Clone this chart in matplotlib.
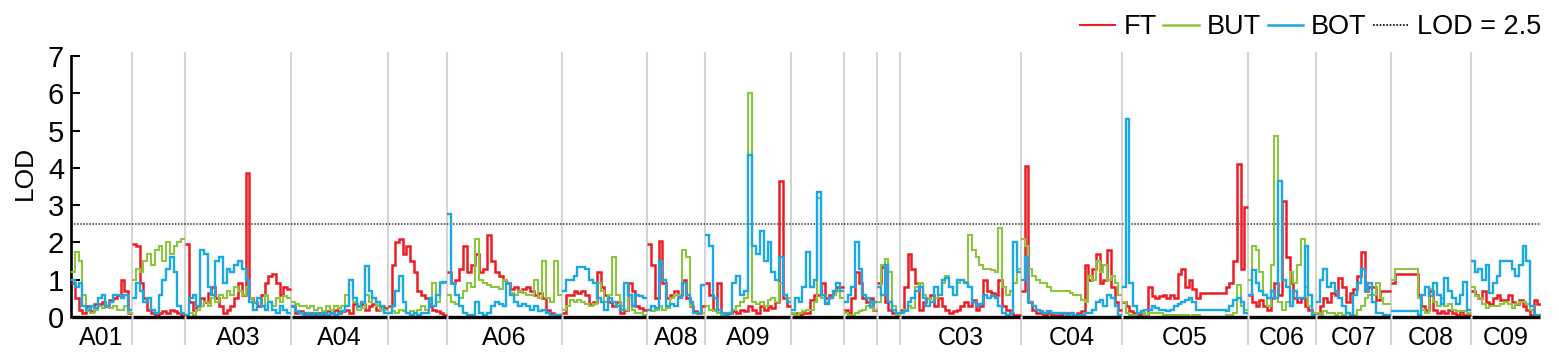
import matplotlib.pyplot as plt
from matplotlib.lines import Line2D
import numpy as np

plt.rcParams['font.family'] = ['Liberation Sans', 'DejaVu Sans']

# chromosomes and their lengths (cM)
chrom_names = ['A01', 'A02', 'A03', 'A04', 'A05', 'A06', 'A07', 'A08', 'A09', 'A10',
               'C01', 'C02', 'C03', 'C04', 'C05', 'C06', 'C07', 'C08', 'C09']
chrom_len = [61, 53, 106, 97, 59, 115, 85, 58, 86, 53, 33, 23, 121, 101, 126, 68, 75, 80, 70]
shown_names = ['A01', 'A03', 'A04', 'A06', 'A08', 'A09', 'C03', 'C04', 'C05', 'C06', 'C07', 'C08', 'C09']

threshold = 2.5

# LOD scans per chromosome, equal bins along each chromosome
lod_ft = [
    [0.9, 0.5, 0.2, 0.1, 0.3, 0.15, 0.35, 0.35, 0.4, 0.3, 0.45, 0.5, 0.6, 1.0, 0.7, 0.1],
    [1.95, 1.9, 0.9, 0.5, 0.2, 0.1, 0.05, 0.1, 0.15, 0.1, 0.2, 0.15, 0.1, 0.05],
    [1.95, 0.4, 0.2, 0.3, 0.5, 0.4, 0.65, 0.8, 0.5, 0.3, 0.1, 0.2, 0.3, 0.5, 0.9, 0.6, 3.85, 0.5,
     0.4, 0.3, 0.6, 0.9, 1.1, 1.15, 0.9, 0.6, 0.8, 0.75],
    [0.3, 0.1, 0.15, 0.1, 0.05, 0.1, 0.05, 0.1, 0.05, 0.15, 0.1, 0.2, 0.1, 0.15, 0.2, 0.1, 0.35,
     0.3, 0.35, 0.2, 0.3, 0.35, 0.2, 0.3, 0.25],
    [0.3, 1.4, 2.0, 2.1, 1.7, 1.9, 1.5, 1.2, 0.7, 0.6, 0.5, 0.3, 0.2, 0.15, 0.1, 0.05],
    [1.2, 0.9, 1.0, 1.3, 1.9, 1.2, 1.4, 1.7, 1.2, 1.3, 2.2, 1.5, 1.2, 1.1, 1.0, 0.9, 0.75, 0.8,
     0.7, 0.75, 0.8, 0.7, 0.6, 0.65, 0.5, 0.2, 0.1, 0.05, 0.0],
    [0.1, 0.6, 0.6, 0.7, 0.65, 0.7, 0.6, 0.35, 0.4, 1.2, 0.8, 0.6, 0.4, 0.3, 0.4, 0.1, 0.2, 0.9,
     0.7, 0.3, 0.25, 0.2],
    [1.95, 1.4, 0.5, 2.05, 0.9, 0.5, 0.6, 0.7, 0.6, 1.0, 0.5, 0.3, 0.15, 0.1, 0.3],
    [0.9, 0.6, 0.2, 0.9, 0.1, 0.05, 0.1, 0.15, 0.1, 0.2, 0.15, 0.3, 0.2, 0.1, 0.3, 0.2, 0.3,
     0.25, 0.4, 3.65, 0.5, 0.3],
    [0.1, 0.1, 0.05, 0.1, 0.1, 0.45, 0.6, 0.6, 0.9, 0.5, 0.6, 0.7, 0.8, 0.8],
    [0.2, 0.1, 0.5, 1.2, 0.9, 0.5, 0.4, 0.5, 0.2],
    [0.9, 1.35, 0.4, 0.2, 0.1, 0.05],
    [0.2, 0.8, 1.7, 1.3, 0.9, 0.2, 0.4, 0.5, 0.6, 0.3, 0.5, 0.3, 0.2, 0.1, 0.15, 0.2, 0.3, 0.4,
     0.3, 0.45, 0.2, 0.3, 1.0, 0.7, 0.65, 0.6, 1.0, 0.3, 0.2, 0.1, 0.05, 0.05],
    [0.7, 4.05, 0.4, 0.2, 0.1, 0.1, 0.05, 0.1, 0.05, 0.05, 0.05, 0.1, 0.1, 0.1, 0.05, 0.1, 0.15,
     1.4, 1.0, 1.3, 1.7, 0.9, 1.0, 1.8, 0.8, 0.4, 0.2],
    [0.4, 0.3, 0.15, 0.1, 0.05, 0.1, 0.05, 0.8, 0.55, 0.5, 0.55, 0.6, 0.5, 0.6, 0.5, 1.15, 1.3,
     0.8, 1.0, 0.75, 0.5, 0.65, 0.65, 0.65, 0.65, 0.65, 0.65, 0.65, 0.8, 0.9, 1.5, 4.1, 1.3, 2.95],
    [0.6, 0.4, 0.3, 0.45, 0.3, 0.2, 0.5, 0.9, 0.6, 3.1, 1.6, 0.9, 0.5, 0.4, 0.5, 0.3, 0.2, 0.1],
    [0.1, 0.3, 0.5, 0.4, 0.65, 0.6, 1.05, 0.8, 0.4, 0.65, 0.75, 1.1, 1.75, 0.7, 0.8, 0.8, 0.45,
     0.7, 0.7, 0.7],
    [0.9, 1.15, 1.15, 1.15, 1.15, 1.15, 1.15, 0.6, 0.3, 0.2, 0.7, 0.2, 0.1, 0.15, 0.1, 0.2, 0.1,
     0.05, 0.15, 0.05, 0.05],
    [0.7, 0.6, 0.5, 0.7, 0.4, 0.35, 0.5, 0.6, 0.45, 0.45, 0.6, 0.4, 0.35, 0.45, 0.3, 0.2, 0.05,
     0.45, 0.35],
]

lod_but = [
    [1.2, 1.75, 1.5, 0.6, 0.15, 0.1, 0.2, 0.3, 0.25, 0.3, 0.25, 0.3, 0.2, 0.2, 0.3, 0.1],
    [1.0, 1.3, 1.2, 1.5, 1.7, 1.4, 1.8, 1.9, 1.5, 2.0, 1.7, 1.9, 2.0, 2.1],
    [0.05, 0.1, 0.05, 0.2, 0.3, 0.4, 0.3, 0.5, 0.4, 0.6, 0.5, 0.7, 0.6, 0.8, 0.7, 0.6, 0.8, 0.5,
     0.4, 0.5, 0.3, 0.6, 0.4, 0.3, 0.5, 0.4, 0.55, 0.5],
    [0.4, 0.35, 0.3, 0.3, 0.25, 0.3, 0.2, 0.25, 0.15, 0.3, 0.2, 0.3, 0.25, 0.3, 0.6, 1.0, 0.4,
     0.2, 0.25, 0.6, 0.4, 0.5, 0.3, 0.2, 0.2],
    [0.1, 0.15, 0.1, 0.2, 0.15, 0.1, 0.15, 0.1, 0.2, 0.3, 0.2, 0.4, 0.9, 0.4, 0.95, 0.9],
    [0.6, 0.4, 0.35, 0.5, 0.7, 0.9, 0.8, 2.1, 1.0, 0.9, 0.85, 0.8, 0.8, 0.75, 1.0, 0.9, 0.65, 0.6,
     0.7, 0.65, 0.6, 0.6, 1.0, 0.5, 1.5, 0.5, 0.4, 1.5, 0.6],
    [0.2, 0.3, 0.45, 0.4, 0.45, 0.4, 0.35, 0.3, 0.35, 0.9, 0.7, 0.4, 0.6, 1.6, 0.6, 0.3, 0.2, 0.5,
     0.2, 0.1, 0.1, 0.05],
    [0.2, 0.15, 0.2, 0.3, 0.2, 0.25, 0.5, 0.6, 0.6, 1.8, 1.6, 0.3, 0.1, 0.1, 0.1],
    [0.3, 0.2, 0.15, 0.1, 0.05, 0.05, 0.1, 0.2, 0.3, 0.4, 0.5, 6.0, 0.4, 0.35, 0.4, 0.3, 0.45,
     0.5, 0.4, 0.9, 0.6, 0.5],
    [0.1, 0.05, 0.1, 0.15, 0.2, 0.2, 0.4, 3.2, 0.5, 0.4, 0.5, 0.6, 0.7, 0.5],
    [0.1, 0.05, 0.05, 0.1, 0.15, 0.2, 0.3, 0.25, 0.2],
    [0.4, 1.4, 1.55, 1.2, 0.3, 0.05],
    [0.1, 0.2, 0.3, 0.25, 0.8, 0.9, 0.6, 0.5, 0.4, 0.5, 0.6, 0.9, 1.1, 0.8, 0.6, 0.9, 1.0, 0.95,
     2.2, 1.8, 1.6, 1.4, 1.3, 1.3, 1.25, 1.2, 2.4, 0.8, 0.6, 0.7, 0.9, 1.3],
    [2.1, 1.9, 1.3, 1.1, 1.0, 0.9, 0.9, 0.8, 0.7, 0.7, 0.7, 0.7, 0.7, 0.65, 0.6, 0.6, 0.45, 0.4,
     1.1, 1.0, 1.5, 1.2, 1.4, 1.0, 1.1, 0.9, 0.6],
    [0.4, 0.1, 0.05, 0.05, 0.1, 0.1, 0.05, 0.1, 0.1, 0.1, 0.1, 0.05, 0.05, 0.05, 0.05, 0.05, 0.05,
     0.05, 0.0, 0.05, 0.05, 0.0, 0.0, 0.0, 0.0, 0.0, 0.0, 0.0, 0.05, 0.05, 0.1, 0.85, 0.3, 0.2],
    [1.0, 1.9, 1.8, 1.2, 0.6, 0.3, 1.4, 4.85, 0.4, 0.2, 0.4, 1.2, 0.9, 1.4, 2.1, 0.8, 0.3, 0.1],
    [0.1, 0.05, 0.15, 0.1, 0.1, 0.05, 0.1, 0.05, 0.1, 0.05, 0.05, 0.2, 0.3, 0.5, 0.6, 0.6, 0.9,
     0.5, 0.35, 0.35],
    [1.0, 1.3, 1.3, 1.3, 1.3, 1.3, 1.3, 0.5, 0.2, 0.1, 0.75, 0.4, 0.3, 0.5, 0.3, 0.35, 0.2, 0.15,
     0.15, 0.15, 0.1],
    [0.8, 0.55, 0.5, 0.35, 0.25, 0.3, 0.3, 0.3, 0.35, 0.4, 0.35, 0.25, 0.35, 0.4, 0.4, 0.35, 0.2,
     0.05, 0.05],
]

lod_bot = [
    [1.0, 0.8, 0.9, 0.3, 0.2, 0.3, 0.25, 0.5, 0.6, 0.3, 0.4, 0.6, 0.6, 0.5, 0.6, 0.2],
    [0.5, 0.9, 0.7, 0.4, 0.5, 0.2, 0.1, 0.6, 1.0, 1.3, 1.6, 1.2, 0.3, 0.1],
    [0.05, 0.5, 0.6, 0.3, 1.8, 1.7, 0.8, 0.6, 1.5, 1.6, 0.9, 1.3, 1.2, 1.4, 1.5, 1.3, 1.0, 0.4,
     0.2, 0.5, 0.3, 0.2, 0.4, 0.2, 0.1, 0.3, 0.2, 0.1],
    [0.3, 0.15, 0.1, 0.05, 0.1, 0.05, 0.1, 0.05, 0.1, 0.05, 0.1, 0.05, 0.1, 0.15, 0.3, 1.0, 0.5,
     0.3, 0.4, 1.37, 0.7, 0.5, 0.4, 0.3, 0.1],
    [0.1, 0.3, 0.7, 1.1, 0.4, 0.1, 0.05, 0.1, 0.05, 0.1, 0.1, 0.5, 0.3, 0.6, 0.9, 0.95],
    [2.75, 0.9, 0.6, 0.3, 0.1, 0.05, 0.05, 0.4, 0.1, 0.05, 0.1, 0.3, 0.4, 0.35, 0.3, 0.9, 0.6, 0.4,
     0.3, 0.35, 0.3, 0.2, 0.3, 0.15, 0.2, 0.1, 0.05, 0.05, 0.05],
    [0.7, 1.0, 1.0, 1.1, 1.35, 1.35, 1.3, 1.0, 0.9, 0.5, 0.4, 0.2, 0.5, 0.4, 0.3, 0.2, 0.9, 0.6,
     0.3, 0.6, 0.55, 0.5],
    [0.2, 0.3, 0.25, 1.5, 1.0, 0.3, 0.35, 0.3, 0.5, 0.9, 0.6, 0.4, 0.1, 0.1, 0.85],
    [2.2, 1.9, 0.5, 0.2, 0.1, 0.05, 0.1, 0.9, 1.1, 0.6, 0.7, 4.35, 1.9, 1.7, 2.3, 1.5, 2.0, 1.2,
     1.0, 1.6, 0.6, 0.4],
    [0.2, 0.5, 0.4, 0.8, 1.75, 0.8, 1.0, 3.35, 0.6, 0.35, 0.5, 0.7, 0.9, 0.7],
    [0.4, 0.6, 0.8, 2.0, 1.3, 0.6, 0.5, 0.3, 0.4],
    [0.8, 0.6, 1.4, 0.4, 0.2, 0.1],
    [0.1, 0.15, 0.4, 0.5, 0.7, 0.8, 0.5, 0.3, 0.4, 0.8, 0.6, 1.0, 1.05, 0.8, 0.6, 1.0, 1.0, 0.9,
     0.8, 0.4, 0.3, 0.35, 0.6, 0.5, 0.55, 0.5, 0.3, 0.1, 0.05, 0.1, 2.0, 1.2],
    [1.0, 1.6, 0.4, 0.3, 0.2, 0.15, 0.1, 0.15, 0.1, 0.1, 0.1, 0.1, 0.05, 0.1, 0.05, 0.05, 0.05,
     0.1, 0.1, 0.2, 0.4, 0.45, 0.3, 0.6, 0.5, 0.3, 0.05],
    [0.8, 5.3, 0.9, 0.3, 0.1, 0.15, 0.2, 0.2, 0.3, 0.25, 0.2, 0.2, 0.15, 0.2, 0.3, 0.35, 0.4, 0.45,
     0.5, 0.4, 0.2, 0.2, 0.2, 0.2, 0.2, 0.2, 0.2, 0.2, 0.15, 0.3, 0.45, 0.5, 0.4, 0.1],
    [0.6, 1.25, 0.9, 0.7, 0.6, 0.5, 0.7, 0.5, 3.65, 1.0, 0.8, 0.3, 0.7, 0.5, 0.5, 1.9, 0.6, 0.05],
    [0.4, 1.0, 1.3, 0.8, 0.9, 0.7, 0.5, 0.3, 0.1, 0.05, 0.6, 0.9, 1.3, 0.7, 0.9, 0.4, 0.1, 0.1,
     0.05, 0.05],
    [0.15, 0.15, 0.15, 0.15, 0.15, 0.15, 0.15, 0.05, 0.6, 0.8, 0.55, 0.9, 0.6, 0.35, 1.05, 0.7,
     0.5, 0.35, 0.6, 0.95, 0.2],
    [1.5, 1.2, 1.3, 1.0, 1.4, 0.65, 0.9, 1.1, 1.5, 1.5, 1.5, 1.3, 1.1, 1.4, 1.9, 1.5, 0.3, 0.05,
     0.05],
]

colors = {'FT': '#ec1c24', 'BUT': '#8cc63f', 'BOT': '#1ba9e1'}

fig = plt.figure(figsize=(15.59, 3.64), dpi=100)
ax = fig.add_axes([71 / 1559, 47 / 364, 1470 / 1559, 261 / 364])

ends = np.cumsum(chrom_len)
starts = ends - np.array(chrom_len)
total = ends[-1]

# chromosome separators, running past the plot area
ax.vlines(starts[1:], -0.75, 7.1, color='#d4d4d4', lw=1.5, clip_on=False, zorder=0)

# threshold
ax.axhline(threshold, color='#333333', lw=1.1, ls=(0, (1, 1)), zorder=1)

for data, name, lw in [(lod_ft, 'FT', 1.8), (lod_but, 'BUT', 1.5), (lod_bot, 'BOT', 1.7)]:
    for k, vals in enumerate(data):
        edges = np.linspace(starts[k], ends[k], len(vals) + 1)
        ax.stairs(vals, edges, baseline=None, color=colors[name], lw=lw, zorder=3)

# broken baseline, one piece per chromosome
ax.hlines(np.zeros(len(starts)), starts + 0.8, ends - 0.8, color='black', lw=2.4,
          zorder=5, clip_on=False)

for name, s, e in zip(chrom_names, starts, ends):
    if name in shown_names:
        ax.text((s + e) / 2, -0.55, name, ha='center', va='center', fontsize=18)

ax.set_xlim(0, total)
ax.set_ylim(0, 7)
ax.set_xticks([])
ax.set_yticks(range(8))
ax.tick_params(axis='y', direction='in', length=6.5, width=1.5, labelsize=21, pad=5)
for side in ['top', 'right', 'bottom']:
    ax.spines[side].set_visible(False)
ax.spines['left'].set_linewidth(1.9)
ax.set_ylabel('LOD', fontsize=19)
ax.yaxis.set_label_coords(-0.0231, 0.552)

handles = [Line2D([], [], color=colors['FT'], lw=1.5),
           Line2D([], [], color=colors['BUT'], lw=1.8),
           Line2D([], [], color=colors['BOT'], lw=1.8),
           Line2D([], [], color='black', lw=1.2, ls=(0, (1, 1)))]
ax.legend(handles, ['FT', 'BUT', 'BOT', 'LOD = 2.5'], loc='center right',
          bbox_to_anchor=(1.0, 1.111), ncol=4, frameon=False, fontsize=19.5,
          handlelength=1.3, handletextpad=0.3, columnspacing=0.25,
          borderaxespad=0, borderpad=0)

fig.savefig('out.png', dpi=100)
